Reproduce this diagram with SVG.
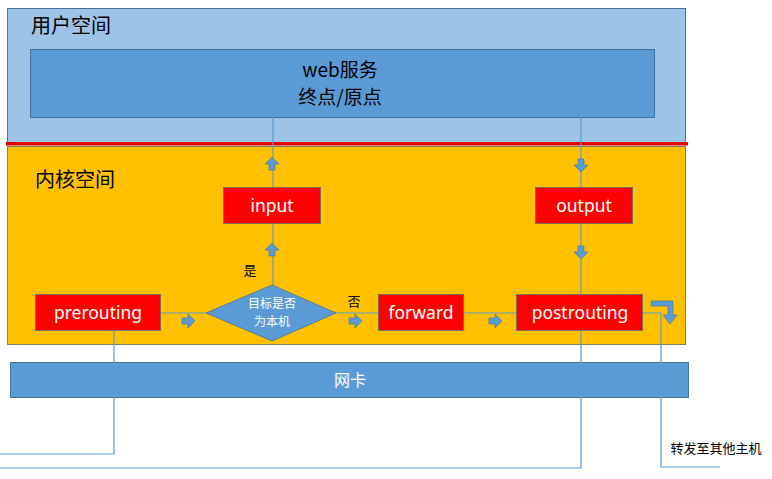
<svg xmlns="http://www.w3.org/2000/svg" width="772" height="479" viewBox="0 0 772 479">
<defs>
<style>
.t{font-family:"Noto Sans CJK SC","Noto Sans",sans-serif;}
.box{fill:#FF0000;stroke:#7F6A5A;stroke-width:1;}
.bl{fill:#FFFFFF;font-size:17.5px;text-anchor:middle;font-family:"Noto Sans","Noto Sans CJK SC",sans-serif;}
.ln{fill:none;stroke:#5B9BD5;stroke-width:1.2;}
.ar{fill:#5B9BD5;stroke:#41719C;stroke-width:0.6;}
</style>
<path id="up" d="M-3,6 L-3,0 L-7,0 L0,-7 L7,0 L3,0 L3,6 Z"/>
</defs>
<rect width="772" height="479" fill="#FFFFFF"/>
<g id="user-space">
<rect x="7.5" y="8.5" width="678" height="135" fill="#9DC3E6" stroke="#41719C" stroke-width="1"/>
<text class="t" x="31" y="33" font-size="20" fill="#000">用户空间</text>
</g>
<g id="kernel-space">
<rect x="7.5" y="146.5" width="678" height="198" fill="#FFC000" stroke="#7F7F5A" stroke-width="1"/>
<text class="t" x="35" y="187" font-size="20" fill="#000">内核空间</text>
</g>
<rect x="6" y="142" width="682" height="3.5" fill="#E00000"/>
<g id="web">
<rect x="30.5" y="49.5" width="624" height="68" fill="#5B9BD5" stroke="#41719C" stroke-width="1"/>
<text class="t" x="340" y="77" font-size="19" text-anchor="middle" fill="#000">web服务</text>
<text class="t" x="340" y="104" font-size="19" text-anchor="middle" fill="#000">终点/原点</text>
</g>
<g id="nic">
<rect x="10.5" y="362.5" width="678" height="35" fill="#5B9BD5" stroke="#41719C" stroke-width="1"/>
<text class="t" x="350" y="386" font-size="16" text-anchor="middle" fill="#FFFFFF">网卡</text>
</g>
<g id="connectors">
<path class="ln" d="M273,117 L273,187"/>
<path class="ln" d="M273,224 L273,285"/>
<path class="ln" d="M581,117 L581,187"/>
<path class="ln" d="M581,224 L581,294"/>
<path class="ln" d="M161,313 L206,313"/>
<path class="ln" d="M336,313 L378,313"/>
<path class="ln" d="M464,313 L516,313"/>
<path class="ln" d="M114,331 L114,454 L0,454"/>
<path class="ln" d="M581,331 L581,468 L0,468"/>
<path class="ln" d="M643,313 L661,313 L661,467 L720,467"/>
<use href="#up" class="ar" transform="translate(272,164)"/>
<use href="#up" class="ar" transform="translate(272,250)"/>
<use href="#up" class="ar" transform="translate(581,165) rotate(180)"/>
<use href="#up" class="ar" transform="translate(581,252) rotate(180)"/>
<use href="#up" class="ar" transform="translate(188,321) rotate(90)"/>
<use href="#up" class="ar" transform="translate(355,321) rotate(90)"/>
<use href="#up" class="ar" transform="translate(495,321) rotate(90)"/>
<path class="ar" d="M651,301 L673,301 L673,315 L677,315 L670,324 L663,315 L668,315 L668,306 L651,306 Z" fill="#4F81BD"/>
<text class="t" x="250" y="275" font-size="13" text-anchor="middle" fill="#000">是</text>
<text class="t" x="354" y="306" font-size="13" text-anchor="middle" fill="#000">否</text>
<text class="t" x="716" y="453" font-size="13" text-anchor="middle" fill="#000">转发至其他主机</text>
</g>
<g id="input">
<rect class="box" x="223.5" y="187.5" width="97" height="36"/>
<text class="bl" x="272" y="212">input</text>
</g>
<g id="output">
<rect class="box" x="535.5" y="187.5" width="97" height="36"/>
<text class="bl" x="584" y="212">output</text>
</g>
<g id="prerouting">
<rect class="box" x="35.5" y="294.5" width="125" height="36"/>
<text class="bl" x="98" y="319">prerouting</text>
</g>
<g id="decision">
<polygon points="206,313 272,285 336,313 272,341" fill="#5B9BD5" stroke="#41719C" stroke-width="0.8"/>
<text class="t" x="272" y="308" font-size="12" text-anchor="middle" fill="#FFFFFF">目标是否</text>
<text class="t" x="272" y="326" font-size="12" text-anchor="middle" fill="#FFFFFF">为本机</text>
</g>
<g id="forward">
<rect class="box" x="378.5" y="294.5" width="85" height="36"/>
<text class="bl" x="421" y="319">forward</text>
</g>
<g id="postrouting">
<rect class="box" x="516.5" y="294.5" width="126" height="36"/>
<text class="bl" x="580" y="319">postrouting</text>
</g>
</svg>
